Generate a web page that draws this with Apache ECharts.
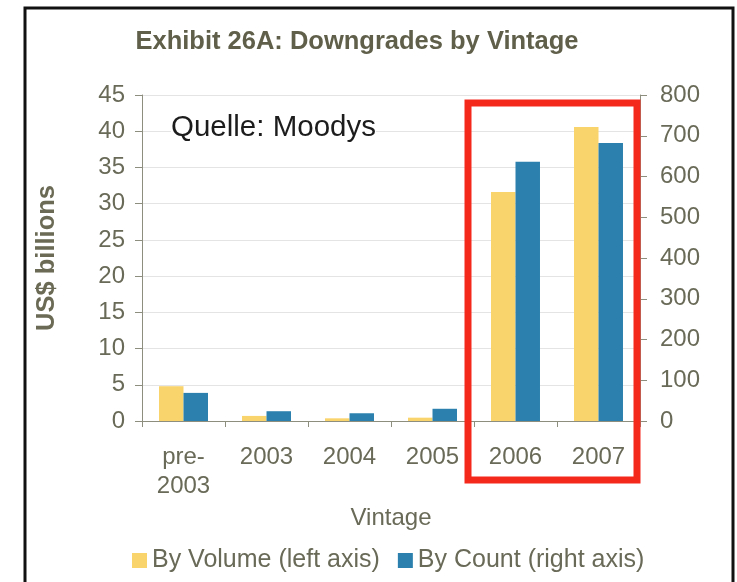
<!DOCTYPE html>
<html>
<head>
<meta charset="utf-8">
<script src="https://cdn.jsdelivr.net/npm/echarts@6/dist/echarts.min.js"></script>
<style>
  html, body { margin: 0; padding: 0; background: #ffffff; }
  #chart { width: 737px; height: 582px; }
</style>
</head>
<body>
<div id="chart"></div>
<script>
// Downgrades by vintage: volume (US$ bn, left axis) and count (right axis)
const vintages = ['pre-\n2003', '2003', '2004', '2005', '2006', '2007'];
const volumeBn = [4.8, 0.7, 0.37, 0.46, 31.6, 40.6];
const countDowngrades = [69, 24, 19, 30, 636, 682];
const leftTicks = { min: 0, max: 45, interval: 5 };
const rightTicks = { min: 0, max: 800, interval: 100 };

const FONT = '"Liberation Sans", Arial, sans-serif';
const LABEL_COLOR = '#6a6a58';
const AXIS_COLOR = '#8e8e7e';

const chart = echarts.init(document.getElementById('chart'), null, { renderer: 'canvas' });

chart.setOption({
  backgroundColor: '#ffffff',
  animation: false,
  title: {
    text: 'Exhibit 26A: Downgrades by Vintage',
    left: 352, top: 24, textAlign: 'center',
    textStyle: { fontFamily: FONT, fontSize: 25.5, fontWeight: 'bold', color: '#5f5f4a' }
  },
  legend: {
    left: 132, top: 548, padding: 0,
    itemWidth: 15, itemHeight: 15, itemGap: 18,
    icon: 'rect',
    textStyle: { fontFamily: FONT, fontSize: 25, color: LABEL_COLOR },
    data: ['By Volume (left axis)', 'By Count (right axis)']
  },
  grid: { left: 142, right: 97, top: 95, bottom: 161, containLabel: false },
  xAxis: {
    type: 'category',
    data: vintages,
    name: 'Vintage',
    nameLocation: 'middle',
    nameGap: 66,
    nameTextStyle: { fontFamily: FONT, fontSize: 24, color: LABEL_COLOR },
    axisLine: { show: true, lineStyle: { color: AXIS_COLOR, width: 1 } },
    axisTick: { show: true, alignWithLabel: false, length: 6, lineStyle: { color: AXIS_COLOR } },
    axisLabel: { fontFamily: FONT, fontSize: 24, color: LABEL_COLOR, lineHeight: 29, margin: 22, interval: 0 },
    splitLine: { show: false }
  },
  yAxis: [
    {
      type: 'value',
      min: leftTicks.min, max: leftTicks.max, interval: leftTicks.interval,
      name: 'US$ billions',
      nameLocation: 'middle',
      nameGap: 82,
      nameRotate: 90,
      nameTextStyle: { fontFamily: FONT, fontSize: 25.5, fontWeight: 'bold', color: '#6a6a55' },
      axisLine: { show: true, lineStyle: { color: AXIS_COLOR, width: 1 } },
      axisTick: { show: true, inside: false, length: 7, lineStyle: { color: AXIS_COLOR } },
      axisLabel: { fontFamily: FONT, fontSize: 24, color: LABEL_COLOR, margin: 17 },
      splitLine: { show: true, lineStyle: { color: '#e4e4e4', width: 1 } }
    },
    {
      type: 'value',
      position: 'right',
      min: rightTicks.min, max: rightTicks.max, interval: rightTicks.interval,
      axisLine: { show: true, lineStyle: { color: AXIS_COLOR, width: 1 } },
      axisTick: { show: true, inside: false, length: 7, lineStyle: { color: AXIS_COLOR } },
      axisLabel: { fontFamily: FONT, fontSize: 24, color: LABEL_COLOR, margin: 20 },
      splitLine: { show: false }
    }
  ],
  series: [
    {
      name: 'By Volume (left axis)',
      type: 'bar',
      yAxisIndex: 0,
      data: volumeBn,
      barGap: '0%',
      barCategoryGap: '41%',
      itemStyle: { color: '#f9d36b' }
    },
    {
      name: 'By Count (right axis)',
      type: 'bar',
      yAxisIndex: 1,
      data: countDowngrades,
      barGap: '0%',
      barCategoryGap: '41%',
      itemStyle: { color: '#2b80ad' }
    }
  ],
  graphic: [
    {
      type: 'text',
      left: 171, top: 113, z: 50,
      style: {
        text: 'Quelle: Moodys',
        font: '29.5px "Liberation Sans", Arial, sans-serif',
        fill: '#1c1c1c',
        backgroundColor: '#ffffff'
      }
    },
    {
      // highlight box around the 2006-2007 vintages
      type: 'rect',
      shape: { x: 468, y: 103, width: 169, height: 377 },
      style: { fill: 'none', stroke: '#f5281c', lineWidth: 7 },
      z: 100
    },
    {
      // outer frame
      type: 'rect',
      shape: { x: 25, y: 8, width: 708, height: 620 },
      style: { fill: 'none', stroke: '#111111', lineWidth: 3 },
      z: 100
    }
  ]
});
</script>
</body>
</html>
